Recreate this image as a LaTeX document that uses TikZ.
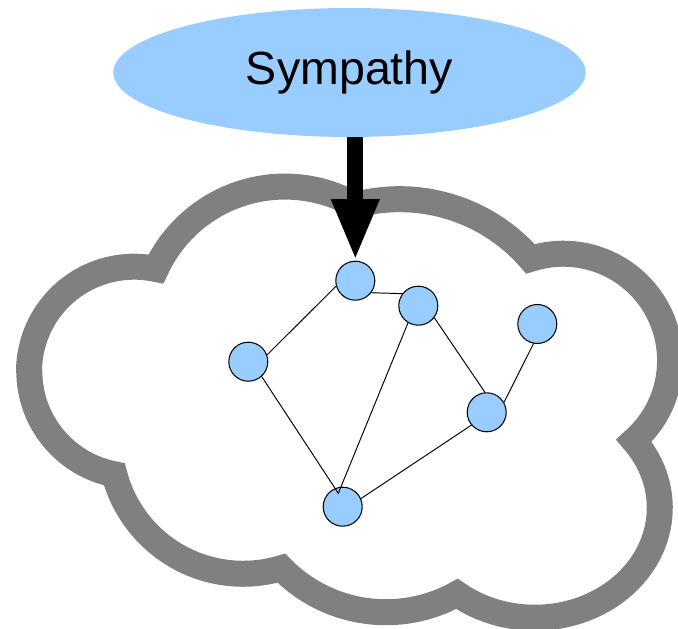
\documentclass[tikz,border=0pt]{standalone}
\usepackage{fontspec}
\setmainfont{Liberation Sans}
\usetikzlibrary{arrows.meta,shapes.geometric,calc}
\definecolor{skyfill}{HTML}{99CCFF}
\definecolor{cloudgray}{HTML}{808080}

\begin{document}
\begin{tikzpicture}[line cap=round,line join=round,x=0.02cm,y=0.02cm,
		vertex/.style={circle,draw=black,line width=0.6pt,fill=skyfill,minimum size=0.78cm,inner sep=0pt},
		link/.style={line width=0.55pt},
		cloudline/.style={draw=cloudgray,fill=white,line width=14.8pt,line join=miter,miter limit=20},
		bigarrow/.style={line width=9pt,line cap=butt,-{Triangle[length=35pt,width=25pt]}}]
	\useasboundingbox (0,0) rectangle (678,628);
	% cloud
	\draw[cloudline] (29,256.2) arc[start angle=180,end angle=77.97,radius=105.1]
		arc[start angle=155.2,end angle=60.45,radius=142]
		arc[start angle=104.95,end angle=40.93,radius=173.2]
		arc[start angle=107.9,end angle=-48.64,radius=106.8]
		arc[start angle=37.56,end angle=-128.5,x radius=125,y radius=110]
		arc[start angle=-60.94,end angle=-135.7,radius=146.2]
		arc[start angle=-73.28,end angle=-165.4,radius=133]
		arc[start angle=-101,end angle=-180,radius=105.1];
	% concept
	\node[ellipse,fill=skyfill,minimum width=9.45cm,minimum height=2.58cm,inner sep=0pt,
		font=\fontsize{26.5}{30}\selectfont] (sym) at (349.5,555.5) {Sympathy};
	% graph
	\node[vertex] (n1) at (355.3,347.3) {};
	\node[vertex] (n2) at (418.3,322.3) {};
	\node[vertex] (n3) at (248.3,266.3) {};
	\node[vertex] (n4) at (537.3,304) {};
	\node[vertex] (n5) at (486.7,215.7) {};
	\node[vertex] (n6) at (342.7,121.3) {};
	\coordinate (hub) at ($(n6)+(-4.4,13.4)$);
	\draw[link] (n3.20) -- (n1.196.5);
	\draw[link] (n1.-37.5) -- (n2.143.2);
	\draw[link] (n2.239) -- (hub);
	\draw[link] (n3.-48.2) -- (hub);
	\draw[link] (n2.-37) -- (n5.95);
	\draw[link] (n5.30) -- (n4.259);
	\draw[link] (n5.220) -- (n6.24);
	\draw[bigarrow] (n1.north |- sym.south) -- (n1.north);
\end{tikzpicture}
\end{document}
